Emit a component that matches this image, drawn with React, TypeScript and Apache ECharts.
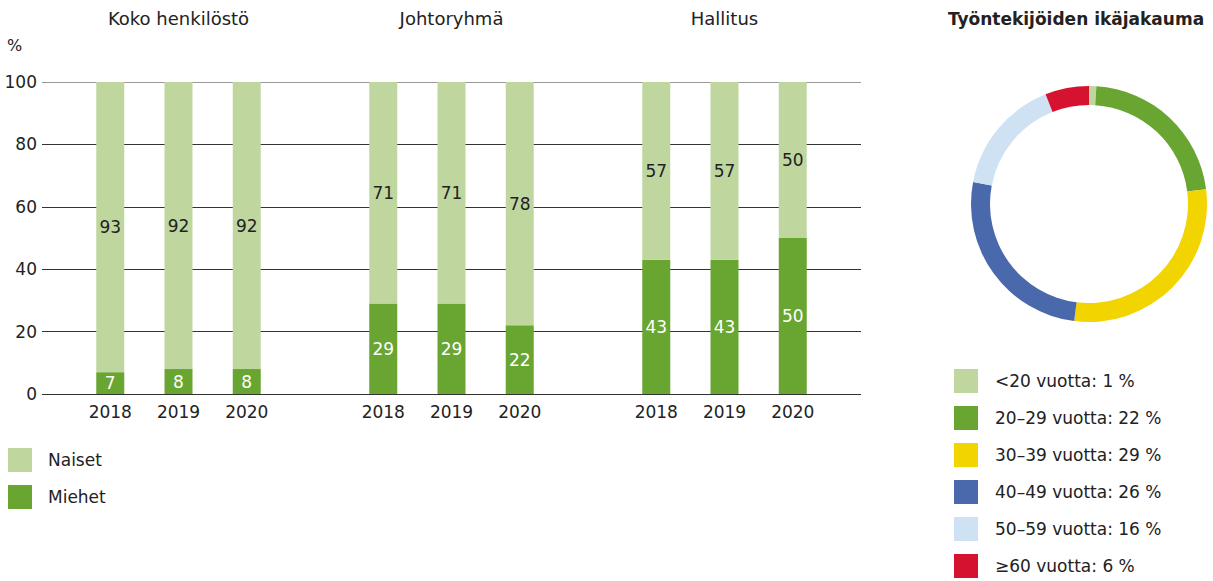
import { useEffect, useRef } from "react";
import * as echarts from "echarts";

const groups = ["Koko henkilöstö", "Johtoryhmä", "Hallitus"];
const years = ["2018", "2019", "2020"];
const naiset = [
  [93, 92, 92],
  [71, 71, 78],
  [57, 57, 50],
];
const miehet = [
  [7, 8, 8],
  [29, 29, 22],
  [43, 43, 50],
];
const genderNames = ["Naiset", "Miehet"];
const genderColors = ["#bfd79f", "#69a531"];

const ageGroups = ["<20", "20–29", "30–39", "40–49", "50–59", "≥60"];
const agePercent = [1, 22, 29, 26, 16, 6];
const ageColors = ["#bfd79f", "#69a531", "#f2d400", "#4a69ad", "#cfe2f4", "#d5122f"];

const FONT = "'DejaVu Sans', sans-serif";
const TEXT = "#222";
const FS = 17;

export default function App() {
  const ref = useRef<HTMLDivElement>(null);

  useEffect(() => {
    document.body.style.margin = "0";
    const chart = echarts.init(ref.current!, undefined, { renderer: "svg" });

    const gridLeft = 42;
    const gridW = 273;
    const gridTop = 82;
    const gridH = 312;

    const grids = groups.map((_, i) => ({
      left: gridLeft + gridW * i,
      top: gridTop,
      width: gridW,
      height: gridH,
    }));

    const xAxes = groups.map((_, i) => ({
      type: "category" as const,
      gridIndex: i,
      data: ["", ...years, ""],
      boundaryGap: false,
      axisLine: { show: false },
      axisTick: { show: false },
      axisLabel: {
        interval: 0,
        margin: 9,
        fontSize: FS,
        color: TEXT,
        fontFamily: FONT,
      },
    }));

    const yAxes = groups.map((_, i) => ({
      type: "value" as const,
      gridIndex: i,
      min: 0,
      max: 100,
      interval: 20,
      axisLine: { show: false },
      axisTick: { show: false },
      axisLabel: {
        show: i === 0,
        margin: 5,
        fontSize: FS,
        color: TEXT,
        fontFamily: FONT,
      },
      splitLine: {
        show: true,
        lineStyle: {
          color: ["#333", "#333", "#333", "#333", "#333", "#999"],
          width: 1,
        },
      },
    }));

    const pad = (arr: number[]) => ["-", ...arr, "-"];

    const barSeries: any[] = [];
    groups.forEach((_, i) => {
      barSeries.push({
        name: genderNames[1],
        type: "bar",
        xAxisIndex: i,
        yAxisIndex: i,
        stack: "g" + i,
        barWidth: 28,
        data: pad(miehet[i]),
        itemStyle: { color: genderColors[1] },
        label: {
          show: true,
          position: "inside",
          color: "#fff",
          fontSize: FS,
          fontFamily: FONT,
        },
      });
      barSeries.push({
        name: genderNames[0],
        type: "bar",
        xAxisIndex: i,
        yAxisIndex: i,
        stack: "g" + i,
        barWidth: 28,
        data: pad(naiset[i]),
        itemStyle: { color: genderColors[0] },
        label: {
          show: true,
          position: "inside",
          color: TEXT,
          fontSize: FS,
          fontFamily: FONT,
        },
      });
    });

    const pieSeries = {
      type: "pie",
      center: [1089, 204],
      radius: [99, 118],
      startAngle: 90,
      clockwise: true,
      label: { show: false },
      labelLine: { show: false },
      emphasis: { disabled: true },
      data: ageGroups.map((name, k) => ({
        name,
        value: agePercent[k],
        itemStyle: { color: ageColors[k] },
      })),
    };

    const option: any = {
      animation: false,
      textStyle: { fontFamily: FONT },
      grid: grids,
      xAxis: xAxes,
      yAxis: yAxes,
      legend: [
        {
          data: genderNames,
          orient: "vertical",
          left: 8,
          top: 448,
          padding: 0,
          itemWidth: 24,
          itemHeight: 24,
          itemGap: 13,
          icon: "rect",
          selectedMode: false,
          textStyle: {
            fontSize: FS,
            color: TEXT,
            fontFamily: FONT,
            padding: [0, 0, 0, 11],
          },
        },
        {
          data: ageGroups,
          orient: "vertical",
          left: 954,
          top: 369,
          padding: 0,
          itemWidth: 24,
          itemHeight: 24,
          itemGap: 13,
          icon: "rect",
          selectedMode: false,
          formatter: (name: string) =>
            `${name} vuotta: ${agePercent[ageGroups.indexOf(name)]} %`,
          textStyle: {
            fontSize: FS,
            color: TEXT,
            fontFamily: FONT,
            padding: [0, 0, 0, 12],
          },
        },
      ],
      graphic: [
        ...groups.map((g, i) => ({
          type: "text",
          x: gridLeft + gridW * i + gridW / 2,
          y: 18,
          style: {
            text: g,
            fontSize: 18,
            fill: TEXT,
            fontFamily: FONT,
            align: "center",
            verticalAlign: "middle",
          },
        })),
        {
          type: "text",
          x: 7,
          y: 45,
          style: {
            text: "%",
            fontSize: 16,
            fill: TEXT,
            fontFamily: FONT,
            align: "left",
            verticalAlign: "middle",
          },
        },
        {
          type: "text",
          x: 1076,
          y: 19,
          style: {
            text: "Työntekijöiden ikäjakauma",
            fontSize: 17,
            fontWeight: "bold",
            fill: TEXT,
            fontFamily: FONT,
            align: "center",
            verticalAlign: "middle",
          },
        },
      ],
      series: [...barSeries, pieSeries],
    };

    chart.setOption(option);
    return () => chart.dispose();
  }, []);

  return <div ref={ref} style={{ width: 1213, height: 581 }} />;
}
